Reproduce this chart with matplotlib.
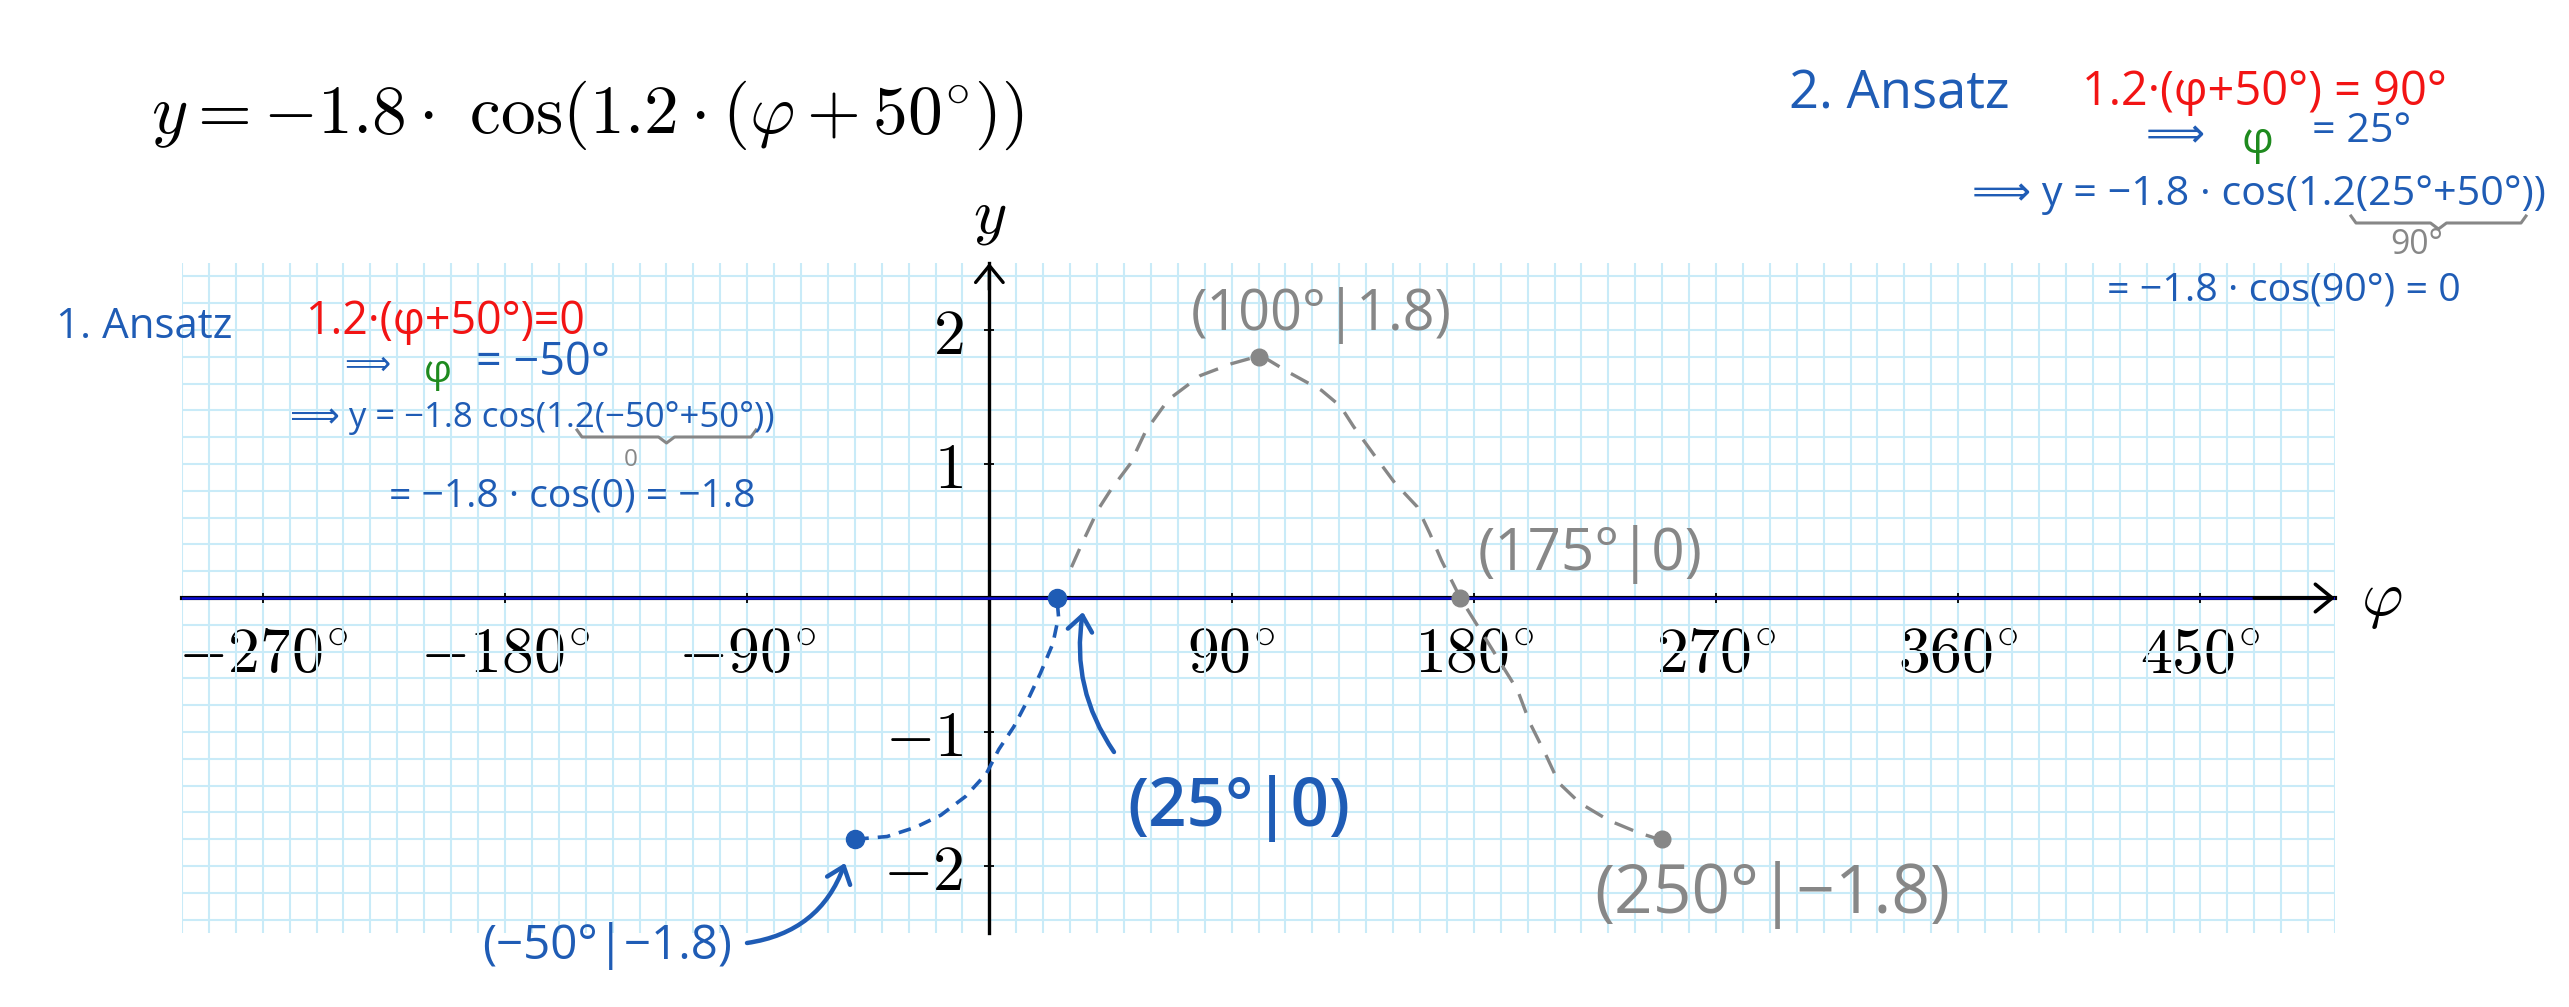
import matplotlib
matplotlib.use('Agg')
import matplotlib.pyplot as plt
from matplotlib.ticker import FixedLocator, MultipleLocator
from matplotlib.lines import Line2D

W, H, DPI = 2569, 1007, 100

# ---------------- data ----------------
x_ticks = [-270, -180, -90, 90, 180, 270, 360, 450]
x_ticklabels = [r'$-270^{\circ}$', r'$-180^{\circ}$', r'$-90^{\circ}$', r'$90^{\circ}$',
                r'$180^{\circ}$', r'$270^{\circ}$', r'$360^{\circ}$', r'$450^{\circ}$']
y_ticks = [-2, -1, 1, 2]
y_ticklabels = [r'$-2$', r'$-1$', r'$1$', r'$2$']

# hand-drawn dashed curve
blue_curve_phi = [-49.5, -38, -27.3, -18, -8.8, -1.1, 3.5, 9.1, 14.3, 19, 23.6, 25.7, 25.1]
blue_curve_y = [-1.80, -1.78, -1.71, -1.62, -1.48, -1.31, -1.13, -0.96, -0.76, -0.56, -0.34, -0.14, 0.0]
gray_curve_phi = [30.5, 34.5, 40.4, 45.2, 52.3, 58.2, 66.5, 78.4, 90.2, 100.9, 111.6, 123.4,
                  130.5, 135.3, 143.6, 150.6, 159, 163.7, 168, 175, 185.5, 196.3, 200.8, 207,
                  211.6, 219.4, 230.2, 241, 250.2]
gray_curve_y = [0.23, 0.41, 0.66, 0.81, 1.0, 1.25, 1.48, 1.66, 1.75, 1.81, 1.68, 1.55,
                1.43, 1.28, 1.05, 0.86, 0.68, 0.48, 0.28, 0.0, -0.34, -0.69, -0.93, -1.18,
                -1.38, -1.53, -1.66, -1.75, -1.81]
blue_pts_phi = [-50, 25]
blue_pts_y = [-1.8, 0]
gray_pts_phi = [100, 175, 250]
gray_pts_y = [1.8, 0, -1.8]

BLUE = '#1f5cb5'
GRAY = '#878787'
RED = '#f21414'
GREEN = '#1e8a1e'
GRID = '#c9ebf8'

plt.rcParams['mathtext.fontset'] = 'cm'
HW = ['Open Sans', 'DejaVu Sans']

fig = plt.figure(figsize=(W / DPI, H / DPI), dpi=DPI)
fig.patch.set_facecolor('white')


def P(x, y):
    return (x / W, 1 - y / H)


ax = fig.add_axes([182 / W, 1 - 933 / H, (2335 - 182) / W, (933 - 263) / H])
ax.set_xlim(-300, 500)
ax.set_ylim(-2.5, 2.5)
ax.set_facecolor('white')

for s in ['top', 'right']:
    ax.spines[s].set_visible(False)
ax.spines['left'].set_position(('data', 0))
ax.spines['bottom'].set_position(('data', 0))
ax.spines['left'].set_linewidth(2.4)
ax.spines['bottom'].set_linewidth(3.0)
ax.spines['left'].set_zorder(3)
ax.spines['bottom'].set_zorder(3)

ax.xaxis.set_major_locator(FixedLocator(x_ticks))
ax.set_xticklabels(x_ticklabels)
ax.yaxis.set_major_locator(FixedLocator(y_ticks))
ax.set_yticklabels(y_ticklabels)
ax.xaxis.set_minor_locator(MultipleLocator(10))
ax.yaxis.set_minor_locator(MultipleLocator(0.2))
ax.tick_params(which='major', direction='inout', length=7.5, width=1.3, labelsize=46)
ax.tick_params(axis='x', which='major', pad=15)
ax.tick_params(axis='y', which='major', pad=15)
ax.tick_params(which='minor', length=0)
ax.set_axisbelow(True)
ax.grid(which='both', color=GRID, lw=1.5)

# blue overlay on x axis
ax.axhline(0, color='#0a0ad8', lw=1.8, zorder=4)

# axis arrows
ax.annotate('', xy=(500, 0), xytext=(470, 0),
            arrowprops=dict(arrowstyle='->,head_length=0.55,head_width=0.45', lw=2.6,
                            color='black', shrinkA=0, shrinkB=0, mutation_scale=22),
            annotation_clip=False, zorder=5)
ax.annotate('', xy=(0, 2.5), xytext=(0, 2.3),
            arrowprops=dict(arrowstyle='->,head_length=0.55,head_width=0.45', lw=2.4,
                            color='black', shrinkA=0, shrinkB=0, mutation_scale=22),
            annotation_clip=False, zorder=5)

# curves
ax.plot(blue_curve_phi, blue_curve_y, color=BLUE, lw=2.6, ls=(0, (3.5, 2.5)), zorder=6)
ax.plot(gray_curve_phi, gray_curve_y, color=GRAY, lw=2.4, ls=(0, (6, 4)), zorder=6)
ax.plot(blue_pts_phi, blue_pts_y, 'o', color=BLUE, ms=13, zorder=7)
ax.plot(gray_pts_phi, gray_pts_y, 'o', color=GRAY, ms=12, zorder=7)

# axis labels and title
fig.text(*P(990, 216), r'$y$', fontsize=46, ha='center', va='center')
fig.text(*P(2382, 600), r'$\varphi$', fontsize=46, ha='center', va='center')
fig.text(*P(151, 133), r'$y=-1.8\cdot\ \cos(1.2\cdot(\varphi+50^{\circ}))$', fontsize=50,
         ha='left', va='baseline')

renderer = fig.canvas.get_renderer()


def hw(s, x0, x1, yc, ink, color, weight='normal'):
    t = fig.text(*P((x0 + x1) / 2, yc), s, ha='center', va='center', color=color,
                 fontsize=10, fontweight=weight, family=HW, zorder=10)
    w = t.get_window_extent(renderer).width
    fs_w = 10 * (x1 - x0) / w
    t.set_fontsize(min(fs_w, ink * 1.35))
    return t


def brace(x0, x1, y):
    xm = (x0 + x1) / 2
    pts = [(x0, y - 7), (x0 + 5, y), (xm - 8, y), (xm, y + 6), (xm + 8, y), (x1 - 5, y), (x1, y - 7)]
    xs = [P(a, b)[0] for a, b in pts]
    ys = [P(a, b)[1] for a, b in pts]
    fig.add_artist(Line2D(xs, ys, transform=fig.transFigure, color=GRAY, lw=2.2))


# left block
hw('1. Ansatz', 56, 233, 327, 28, BLUE)
hw('1.2·(φ+50°)=0', 305, 584, 322, 24, RED)
hw('⟹', 344, 390, 365, 22, BLUE)
hw('φ', 424, 452, 372, 34, GREEN)
hw('= −50°', 472, 615, 363, 24, BLUE)
hw('⟹ y = −1.8 cos(1.2(−50°+50°))', 290, 775, 418, 22, BLUE)
brace(577, 756, 437)
hw('0', 624, 638, 460, 13, GRAY)
hw('= −1.8 · cos(0) = −1.8', 389, 756, 497, 22, BLUE)

# right block
hw('2. Ansatz', 1786, 2013, 95, 28, BLUE)
hw('1.2·(φ+50°) = 90°', 2074, 2454, 92, 25, RED)
hw('⟹', 2143, 2207, 137, 22, BLUE)
hw('φ', 2241, 2273, 142, 32, GREEN)
hw('= 25°', 2301, 2423, 132, 22, BLUE)
hw('⟹ y = −1.8 · cos(1.2(25°+50°))', 1969, 2548, 195, 22, BLUE)
brace(2351, 2526, 223)
hw('90°', 2390, 2443, 245, 20, GRAY)
hw('= −1.8 · cos(90°) = 0', 2077, 2490, 290, 21, BLUE)

# point labels
hw('(100°|1.8)', 1190, 1452, 315, 36, GRAY)
hw('(175°|0)', 1477, 1703, 555, 38, GRAY)
hw('(250°|−1.8)', 1594, 1950, 895, 40, GRAY)
hw('(25°|0)', 1127, 1351, 808, 40, BLUE, weight='semibold')
hw('(−50°|−1.8)', 482, 732, 946, 40, BLUE)

# hand arrows
ax.annotate('', xy=P(845, 863), xytext=P(747, 943), xycoords='figure fraction',
            textcoords='figure fraction',
            arrowprops=dict(arrowstyle='->,head_length=0.5,head_width=0.4', lw=3.2, color=BLUE,
                            connectionstyle='arc3,rad=0.3', shrinkA=0, shrinkB=0, mutation_scale=22),
            annotation_clip=False, zorder=8)
ax.annotate('', xy=P(1083, 612), xytext=P(1114, 752), xycoords='figure fraction',
            textcoords='figure fraction',
            arrowprops=dict(arrowstyle='->,head_length=0.5,head_width=0.4', lw=3.2, color=BLUE,
                            connectionstyle='arc3,rad=-0.2', shrinkA=0, shrinkB=0, mutation_scale=22),
            annotation_clip=False, zorder=8)

fig.savefig('out.png', dpi=DPI, facecolor='white')
